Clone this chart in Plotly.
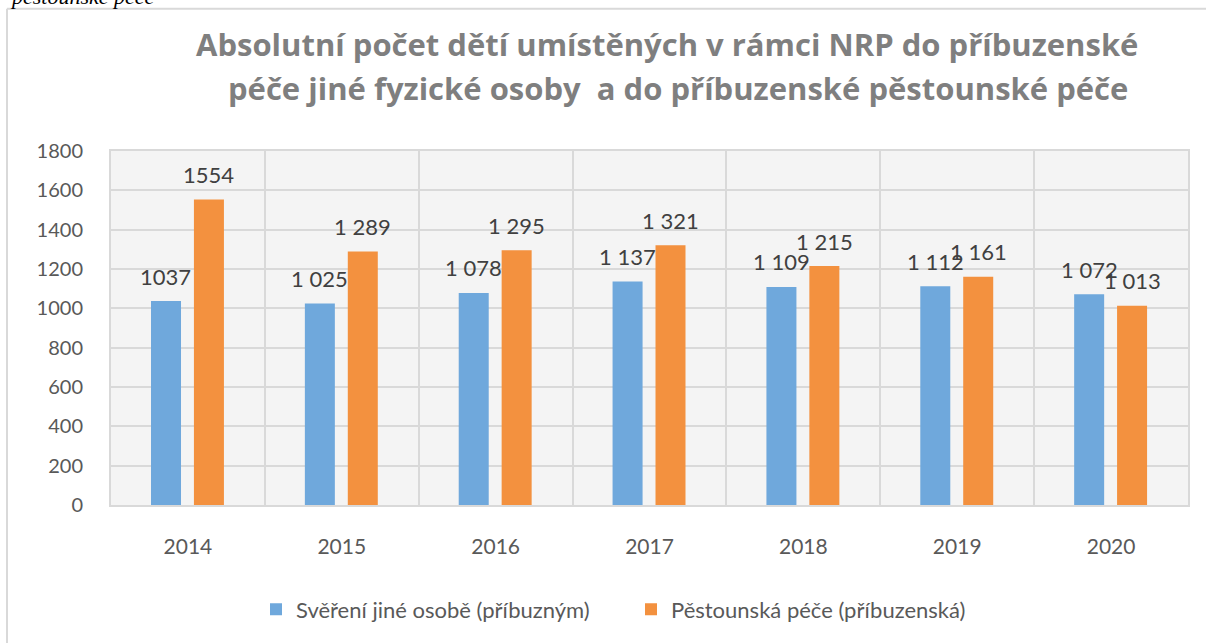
import plotly.graph_objects as go

years = ["2014", "2015", "2016", "2017", "2018", "2019", "2020"]
sverent = [1037, 1025, 1078, 1137, 1109, 1112, 1072]
pestoun = [1554, 1289, 1295, 1321, 1215, 1161, 1013]
sverent_labels = ["1037", "1 025", "1 078", "1 137", "1 109", "1 112", "1 072"]
pestoun_labels = ["1554", "1 289", "1 295", "1 321", "1 215", "1 161", "1 013"]
series_names = ["Svěření jiné osobě (příbuzným)", "Pěstounská péče (příbuzenská)"]
title_lines = ["Absolutní počet dětí umístěných v rámci NRP do příbuzenské",
               "péče jiné fyzické osoby \u00a0a do příbuzenské pěstounské péče"]

BLUE = "#6FA8DC"
ORANGE = "#F3913F"
FONT = "Lato"

W, H = 1206, 643
L, T = 111, 151
R = W - 1188
B = H - 507
pw, ph = W - L - R, H - T - B

def px(x):
    return (x - L) / pw

def py(y):
    return (H - B - y) / ph

fig = go.Figure()
fig.add_trace(go.Bar(x=years, y=sverent, name=series_names[0], marker_color=BLUE,
                     width=0.195, offset=-0.24, marker_line_width=0))
fig.add_trace(go.Bar(x=years, y=pestoun, name=series_names[1], marker_color=ORANGE,
                     width=0.195, offset=0.039, marker_line_width=0))

ann = []
for i, (v, t) in enumerate(zip(sverent, sverent_labels)):
    ann.append(dict(x=i, y=v, text=t, xref="x", yref="y", showarrow=False,
                    xshift=-22, yshift=25, font=dict(family=FONT, size=22, color="#404040")))
for i, (v, t) in enumerate(zip(pestoun, pestoun_labels)):
    ann.append(dict(x=i, y=v, text=t, xref="x", yref="y", showarrow=False,
                    xshift=21, yshift=25, font=dict(family=FONT, size=22, color="#404040")))
title_x = [667, 678]
title_y = [43, 88]
for i, line in enumerate(title_lines):
    ann.append(dict(x=px(title_x[i]), y=py(title_y[i]), xref="paper", yref="paper", text="<b>" + line + "</b>",
                    showarrow=False, xanchor="center", yanchor="middle",
                    font=dict(family="Open Sans", size=31, color="#7F7F7F")))
ann.append(dict(x=px(8), y=py(10), xref="paper", yref="paper", text="<i>pěstounské péče</i>",
                showarrow=False, xanchor="left", yanchor="bottom",
                font=dict(family="Liberation Serif", size=22, color="#000000")))

shapes = [
    dict(type="line", xref="paper", yref="paper", x0=px(7), x1=px(1215), y0=py(8), y1=py(8),
         line=dict(color="#D9D9D9", width=2)),
    dict(type="line", xref="paper", yref="paper", x0=px(7), x1=px(7), y0=py(8), y1=py(660),
         line=dict(color="#D9D9D9", width=2)),
]

fig.update_layout(
    width=W, height=H,
    margin=dict(l=L, r=R, t=T, b=B),
    paper_bgcolor="white",
    plot_bgcolor="#F4F4F4",
    barmode="overlay",
    annotations=ann,
    shapes=shapes,
    showlegend=True,
    legend=dict(orientation="h", x=px(256), y=py(612), xanchor="left", yanchor="middle",
                entrywidth=330, entrywidthmode="pixels",
                font=dict(family=FONT, size=22, color="#595959")),
    font=dict(family=FONT),
)
fig.update_xaxes(type="category", range=[-0.5, 6.5], tickson="boundaries", showgrid=True,
                 gridcolor="#D9D9D9", gridwidth=2,
                 showline=True, linecolor="#D9D9D9", linewidth=2, mirror=True, ticks="",
                 tickfont=dict(family=FONT, size=21, color="#595959"), ticklabelstandoff=22)
fig.update_yaxes(range=[0, 1800], dtick=200, showgrid=True, gridcolor="#D9D9D9", gridwidth=2,
                 showline=True, linecolor="#D9D9D9", linewidth=2, mirror=True, ticks="",
                 zeroline=False,
                 tickfont=dict(family=FONT, size=20, color="#595959"), ticklabelstandoff=22)

fig.write_html("out.html", config={"displayModeBar": False},
               post_script="document.body.style.margin='0';document.body.style.overflow='hidden';")
